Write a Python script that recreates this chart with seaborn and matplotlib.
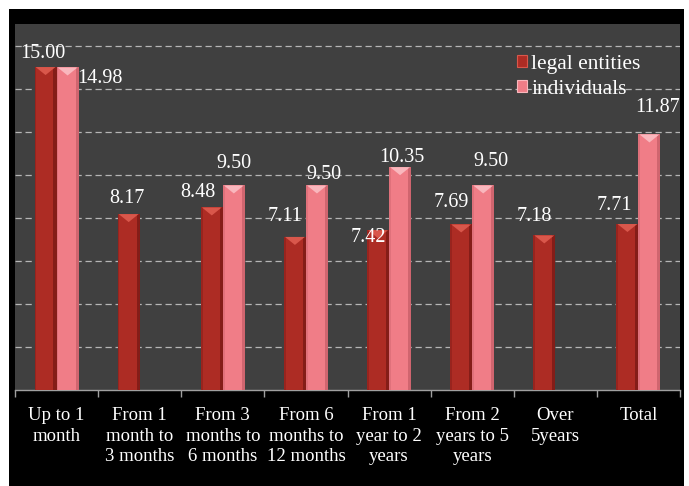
import numpy as np
import pandas as pd
import matplotlib
matplotlib.use("Agg")
import matplotlib.pyplot as plt
from matplotlib.patches import Polygon, Rectangle, Patch
import seaborn as sns

categories = ["Up to 1\nmonth", "From 1\nmonth to\n3 months", "From 3\nmonths to\n6 months",
              "From 6\nmonths to\n12 months", "From 1\nyear to 2\nyears", "From 2\nyears to 5\nyears",
              "Over\n5years", "Total"]
legal_entities = [15.00, 8.17, 8.48, 7.11, 7.42, 7.69, 7.18, 7.71]
individuals = [14.98, np.nan, 9.50, 9.50, 10.35, 9.50, np.nan, 11.87]
series_names = ["legal entities", "individuals"]

# label offsets (pixels) relative to bar top centre
legal_off = [(-3, 14), (-2, 16), (-14, 15), (-10, 20), (-10, -7), (-10, 22), (-10, 19), (-13, 19)]
indiv_off = [(32, -11), (0, 0), (0, 22), (7, 11), (2, 10), (8, 24), (0, 0), (8, 27)]

df = pd.DataFrame({
    "category": categories * 2,
    "series": [series_names[0]] * len(categories) + [series_names[1]] * len(categories),
    "value": legal_entities + individuals,
})

sns.set_theme(style="dark")
plt.rcParams["font.family"] = ["Liberation Serif", "DejaVu Serif"]

W, H = 689, 486
fig = plt.figure(figsize=(W / 100, H / 100), dpi=100, facecolor="white")
fig.patches.append(Rectangle((9 / W, 0), (684 - 9) / W, (486 - 9) / H, transform=fig.transFigure,
                             facecolor="black", edgecolor="none", zorder=-10))
ax = fig.add_axes([15 / W, (H - 390) / H, (680 - 15) / W, (390 - 24) / H])
ax.set_facecolor("#404040")

colors = {"legal entities": "#AD2C24", "individuals": "#F07D87"}
tri_col = {"legal entities": "#D9574B", "individuals": "#F9B7BD"}
edge_col = {"legal entities": "#7A1A15", "individuals": "#C9606A"}

sns.barplot(data=df, x="category", y="value", hue="series", hue_order=series_names,
            palette=colors, width=0.53, gap=0, dodge=True, ax=ax, legend=False,
            saturation=1, edgecolor="none", linewidth=0, zorder=3, errorbar=None)

ax.set_ylim(0, 17.0)
ax.set_xlim(-0.5, len(categories) - 0.5)
ax.set_yticks(np.arange(2, 17, 2))
ax.yaxis.grid(True, color="#B5B5B5", linestyle=(0, (5, 3)), linewidth=0.9)
ax.xaxis.grid(False)
ax.tick_params(axis="y", left=False, labelleft=False)
ax.set_xlabel("")
ax.set_ylabel("")
for s in ["top", "left", "right"]:
    ax.spines[s].set_visible(False)
ax.spines["bottom"].set_color("#A0A0A0")
ax.spines["bottom"].set_linewidth(1.0)

ax.set_xticks(range(len(categories)))
ax.set_xticklabels(categories, color="white", fontsize=13.5, linespacing=1.3)
ax.tick_params(axis="x", length=0, pad=12)
ax.set_xticks(np.arange(-0.5, len(categories), 1), minor=True)
ax.tick_params(axis="x", which="minor", length=5, color="#A0A0A0", width=1, bottom=True)

px_per_unit = (390 - 24) / 17.0
tri_h = 8 / px_per_unit

for cont, name, offs in zip(ax.containers, series_names, [legal_off, indiv_off]):
    for bar in cont.patches:
        h = bar.get_height()
        if not np.isfinite(h) or h <= 0:
            continue
        x0 = bar.get_x()
        w = bar.get_width()
        idx = int(round(x0 + w / 2))
        off = offs[idx]
        ax.add_patch(Rectangle((x0 + w * 0.86, 0), w * 0.14, h, facecolor=edge_col[name],
                               edgecolor="none", zorder=4, alpha=0.8))
        ax.add_patch(Rectangle((x0, 0), w * 0.08, h, facecolor=edge_col[name],
                               edgecolor="none", zorder=4, alpha=0.4))
        ax.add_patch(Polygon([(x0 + w * 0.05, h), (x0 + w * 0.95, h), (x0 + w / 2, h - tri_h)],
                             closed=True, facecolor=tri_col[name], edgecolor="none", zorder=5))
        ax.annotate(f"{h:.2f}", xy=(x0 + w / 2, h), xytext=off, textcoords="offset pixels",
                    ha="center", va="center", color="white", fontsize=14.5, zorder=6)

handles = [Patch(facecolor=colors[n], edgecolor=tri_col[n], linewidth=0.8) for n in series_names]
leg = ax.legend(handles, series_names, loc="upper left", bbox_to_anchor=(0.755, 0.916),
                frameon=False, fontsize=15.5, handlelength=0.45, handleheight=0.5,
                handletextpad=0.2, labelspacing=0.29, borderaxespad=0, borderpad=0)
for t in leg.get_texts():
    t.set_color("white")

fig.savefig("out.png", dpi=100, facecolor=fig.get_facecolor())
